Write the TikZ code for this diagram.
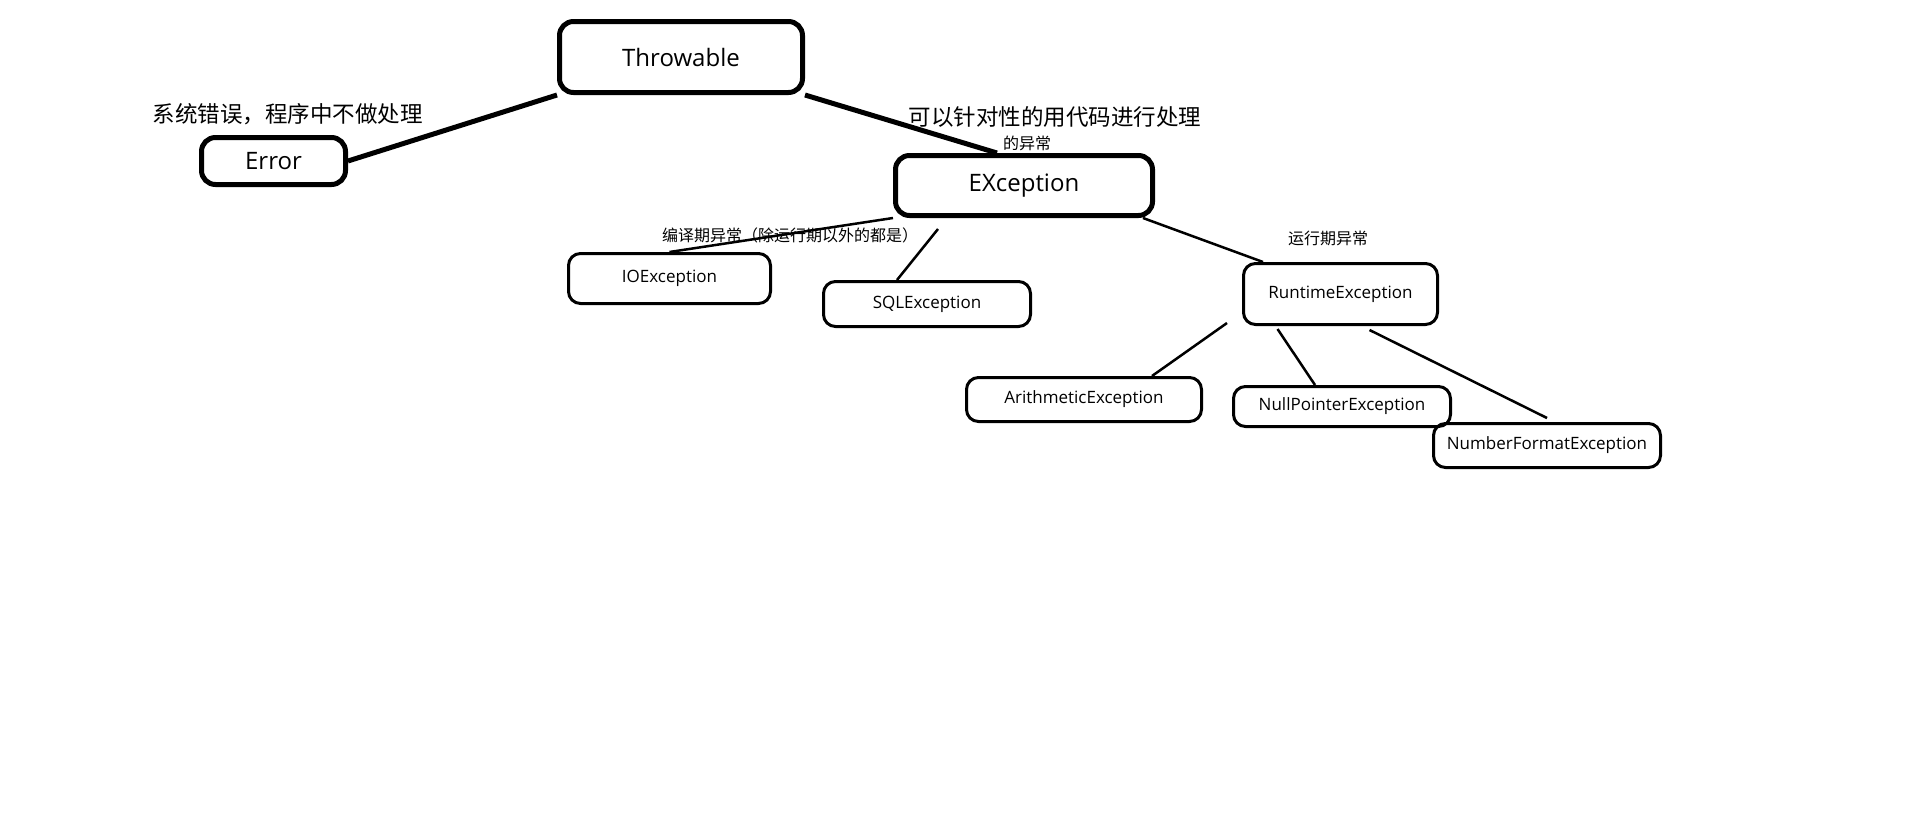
\documentclass[tikz,border=0pt]{standalone}
\usepackage{fontspec}
\setmainfont{Open Sans}
\newfontfamily\cjk{Noto Sans CJK SC}
\begin{document}
\begin{tikzpicture}[
  x=1pt, y=-1pt,
  bigbox/.style={rectangle, draw, line width=5pt, rounded corners=14pt, inner sep=0pt, font=\fontsize{24}{28}\selectfont},
  smallbox/.style={rectangle, draw, line width=3pt, rounded corners=12pt, inner sep=0pt, font=\fontsize{17}{20}\selectfont},
  thickline/.style={line width=5pt},
  thinline/.style={line width=2.5pt},
  note/.style={inner sep=0pt, font=\cjk\fontsize{16}{19}\selectfont},
  bignote/.style={inner sep=0pt, font=\cjk\fontsize{22.5}{26}\selectfont}
]
\useasboundingbox (0,0) rectangle (1914,819);

% Top levels
\node[bigbox, minimum width=243pt, minimum height=71pt] (throwable) at (681,57) {Throwable};
\node[bigbox, minimum width=144pt, minimum height=47pt] (error) at (273.5,161) {Error};
\node[bigbox, minimum width=257pt, minimum height=60pt] (exception) at (1024,185.5) {EXception};

% Children of Exception
\node[smallbox, minimum width=202pt, minimum height=50pt] (io) at (669.5,278.5) {IOException};
\node[smallbox, minimum width=207pt, minimum height=45pt] (sql) at (927,304) {SQLException};
\node[smallbox, minimum width=194pt, minimum height=61pt] (runtime) at (1340.5,294) {RuntimeException};

% Children of RuntimeException
\node[smallbox, minimum width=235pt, minimum height=44pt] (arith) at (1084,399.5) {ArithmeticException};
\node[smallbox, minimum width=217pt, minimum height=40pt] (nullptr) at (1342,406.5) {NullPointerException};
\node[smallbox, minimum width=227pt, minimum height=44pt] (numfmt) at (1547,445.5) {NumberFormatException};

% Notes
\node[bignote] (errnote) at (287.5,114) {系统错误，程序中不做处理};
\node[bignote] (excnote) at (1055,117) {可以针对性的用代码进行处理};
\node[note] (excnote2) at (1027,143) {的异常};
\node[note] (checknote) at (790,235) {编译期异常（除运行期以外的都是）};
\node[note] (rtnote) at (1328,238) {运行期异常};

% Lines
\draw[thickline] (error.east) -- (throwable.south west);
\draw[thickline] (throwable.south east) -- ([xshift=-27pt]exception.north);
\draw[thinline] (exception.south west) -- (io.north);
\draw[thinline] ([xshift=-86pt,yshift=-11pt]exception.south) -- ([xshift=-30pt]sql.north);
\draw[thinline] ([xshift=-12pt]exception.south east) -- ([xshift=21pt]runtime.north west);
\draw[thinline] ([xshift=-15pt,yshift=3pt]runtime.south west) -- ([xshift=68pt]arith.north);
\draw[thinline] ([xshift=-63pt,yshift=-3pt]runtime.south) -- ([xshift=-27pt]nullptr.north);
\draw[thinline] ([xshift=29pt,yshift=-4pt]runtime.south) -- ([yshift=4pt]numfmt.north);

\end{tikzpicture}
\end{document}
